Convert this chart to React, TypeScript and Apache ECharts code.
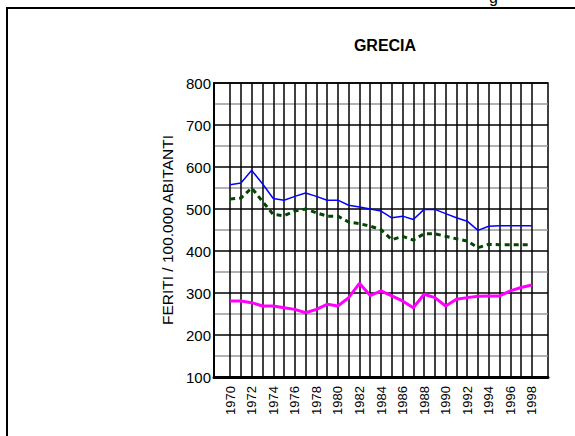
import React, { useEffect, useRef } from "react";
import * as echarts from "echarts";

const years = [1970, 1971, 1972, 1973, 1974, 1975, 1976, 1977, 1978, 1979, 1980, 1981, 1982, 1983, 1984, 1985, 1986, 1987, 1988, 1989, 1990, 1991, 1992, 1993, 1994, 1995, 1996, 1997, 1998];
const blueSeries = [558, 562, 592, 560, 525, 521, 530, 538, 530, 521, 521, 509, 505, 500, 495, 479, 483, 475, 499, 499, 489, 479, 471, 449, 459, 460, 460, 460, 460];
const greenSeries = [524, 526, 550, 518, 487, 484, 495, 500, 491, 483, 483, 469, 465, 459, 451, 427, 435, 426, 441, 441, 435, 429, 424, 408, 416, 415, 415, 415, 415];
const magentaSeries = [281, 281, 277, 269, 269, 265, 261, 253, 261, 273, 269, 289, 323, 294, 305, 293, 281, 265, 297, 289, 269, 285, 289, 292, 293, 293, 305, 313, 319];
const yTicks = { min: 100, max: 800, step: 100 };
const titleText = "GRECIA";
const yName = "FERITI / 100.000 ABITANTI";

const SANS = "'Liberation Sans', Arial, sans-serif";

export default function App() {
  const ref = useRef<HTMLDivElement>(null);
  useEffect(() => {
    if (!ref.current) return;
    const chart = echarts.init(ref.current, undefined, { renderer: "svg" });
    const cats = ["", ...years.map(String), ""];
    const pair = (arr: number[]) => years.map((y, i) => [String(y), arr[i]]);
    chart.setOption({
      animation: false,
      backgroundColor: "#fff",
      grid: { left: 214, right: 27, top: 83, bottom: 59, show: true, borderColor: "#000", borderWidth: 1.5, backgroundColor: "transparent" },
      xAxis: {
        type: "category",
        data: cats,
        boundaryGap: true,
        axisLine: { show: true, lineStyle: { color: "#000", width: 3 } },
        axisTick: { show: false },
        axisLabel: {
          interval: (i: number, v: string) => v !== "" && (Number(v) - years[0]) % 2 === 0,
          rotate: 90,
          margin: 9,
          fontSize: 13,
          fontFamily: SANS,
          color: "#000",
        },
        splitLine: {
          show: true,
          alignWithLabel: true,
          interval: (i: number, v: string) => v !== "",
          lineStyle: { color: "#000", width: 1.5 },
        },
      },
      yAxis: {
        type: "value",
        min: yTicks.min,
        max: yTicks.max,
        interval: yTicks.step,
        name: yName,
        nameLocation: "middle",
        nameGap: 36,
        nameTextStyle: { fontSize: 15.5, fontFamily: SANS, color: "#000" },
        axisLine: { show: true, lineStyle: { color: "#000", width: 2 } },
        axisTick: { show: false },
        axisLabel: { fontSize: 15, fontFamily: SANS, color: "#000", margin: 3 },
        splitLine: { show: true, lineStyle: { color: "#000", width: 1.5 } },
        minorTick: { show: false, splitNumber: 2 },
        minorSplitLine: { show: true, lineStyle: { color: "#999", width: 1.5 } },
      },
      series: [
        { type: "line", data: pair(blueSeries), symbol: "none", lineStyle: { color: "#0000FF", width: 1.5 }, z: 3 },
        { type: "line", data: pair(greenSeries), symbol: "none", lineStyle: { color: "#004800", width: 3, type: [5, 4] }, z: 3 },
        { type: "line", data: pair(magentaSeries), symbol: "none", lineStyle: { color: "#FF00FF", width: 3 }, z: 3 },
      ],
      graphic: [
        { type: "rect", shape: { x: 7, y: 8, width: 640, height: 520 }, style: { fill: "none", stroke: "#000", lineWidth: 2 }, z: 10 },
        { type: "text", x: 385, y: 45, style: { text: titleText, textAlign: "center", textVerticalAlign: "middle", fontSize: 16, fontWeight: "bold", fontFamily: SANS, fill: "#000" } },
        { type: "text", x: 489, y: -11, style: { text: "g", fontSize: 16, fontFamily: SANS, fill: "#000" } },
      ],
    });
    return () => chart.dispose();
  }, []);
  return <div ref={ref} style={{ position: "fixed", left: 0, top: 0, width: 575, height: 436 }} />;
}
